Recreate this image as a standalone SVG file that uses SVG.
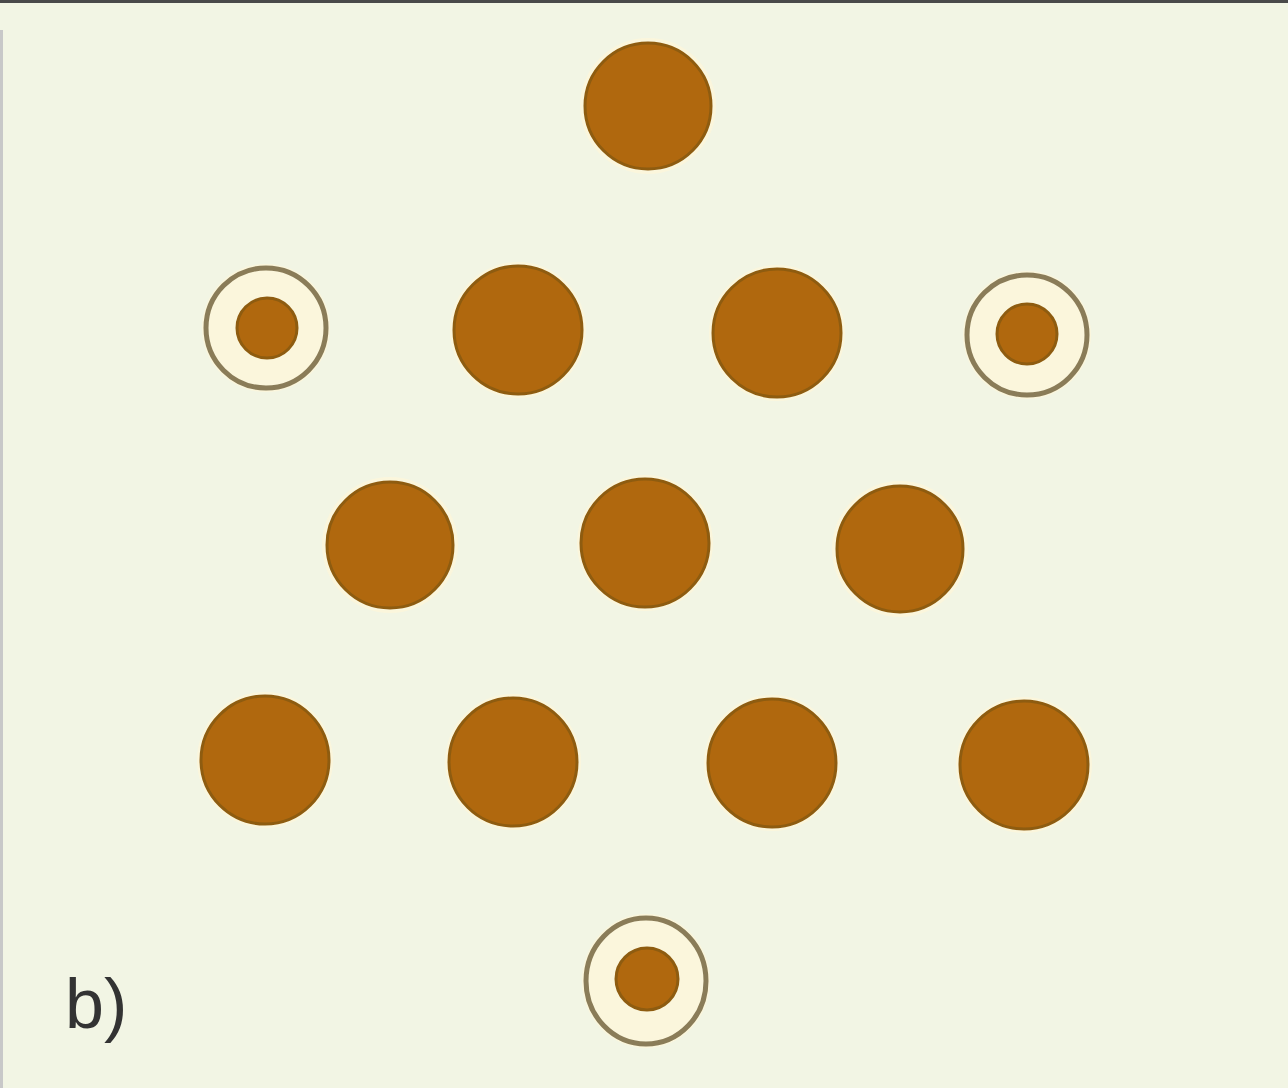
<svg xmlns="http://www.w3.org/2000/svg" width="1288" height="1088" viewBox="0 0 1288 1088">
  <style>
    .dot { fill: #b0680e; stroke: #8e5c10; stroke-width: 3; }
    .ring { fill: none; stroke: #8a7c58; stroke-width: 5; }
    .halo { fill: #fbf6dc; }
    .lbl { font-family: "Liberation Sans", Arial, sans-serif; font-size: 70px; fill: #333333; }
  </style>
  <rect x="0" y="0" width="1288" height="1088" fill="#f2f5e4"/>
  <rect x="0" y="0" width="1288" height="3" fill="#4a4a4a"/>
  <rect x="0" y="30" width="3" height="1058" fill="#c8c8c8"/>

  <g id="n-top"><circle class="halo" cx="648" cy="106" r="68"/><circle class="dot" cx="648" cy="106" r="63"/></g>

  <g id="n-r2-ring-left"><circle class="halo" cx="266" cy="328" r="64"/><circle class="ring" cx="266" cy="328" r="60"/><circle class="dot" cx="267" cy="328" r="30"/></g>
  <g id="n-r2-a"><circle class="halo" cx="518" cy="330" r="68"/><circle class="dot" cx="518" cy="330" r="64"/></g>
  <g id="n-r2-b"><circle class="halo" cx="777" cy="333" r="68"/><circle class="dot" cx="777" cy="333" r="64"/></g>
  <g id="n-r2-ring-right"><circle class="halo" cx="1027" cy="335" r="64"/><circle class="ring" cx="1027" cy="335" r="60"/><circle class="dot" cx="1027" cy="334" r="30"/></g>

  <g id="n-r3-a"><circle class="halo" cx="390" cy="545" r="68"/><circle class="dot" cx="390" cy="545" r="63"/></g>
  <g id="n-r3-b"><circle class="halo" cx="645" cy="543" r="68"/><circle class="dot" cx="645" cy="543" r="64"/></g>
  <g id="n-r3-c"><circle class="halo" cx="900" cy="549" r="68"/><circle class="dot" cx="900" cy="549" r="63"/></g>

  <g id="n-r4-a"><circle class="halo" cx="265" cy="760" r="68"/><circle class="dot" cx="265" cy="760" r="64"/></g>
  <g id="n-r4-b"><circle class="halo" cx="513" cy="762" r="68"/><circle class="dot" cx="513" cy="762" r="64"/></g>
  <g id="n-r4-c"><circle class="halo" cx="772" cy="763" r="68"/><circle class="dot" cx="772" cy="763" r="64"/></g>
  <g id="n-r4-d"><circle class="halo" cx="1024" cy="765" r="68"/><circle class="dot" cx="1024" cy="765" r="64"/></g>

  <g id="n-bottom-ring"><ellipse class="halo" cx="646" cy="981" rx="64" ry="67"/><ellipse class="ring" cx="646" cy="981" rx="60" ry="63"/><circle class="dot" cx="647" cy="979" r="31"/></g>

  <g id="connectors"></g>

  <text class="lbl" x="65" y="1028">b)</text>
</svg>
